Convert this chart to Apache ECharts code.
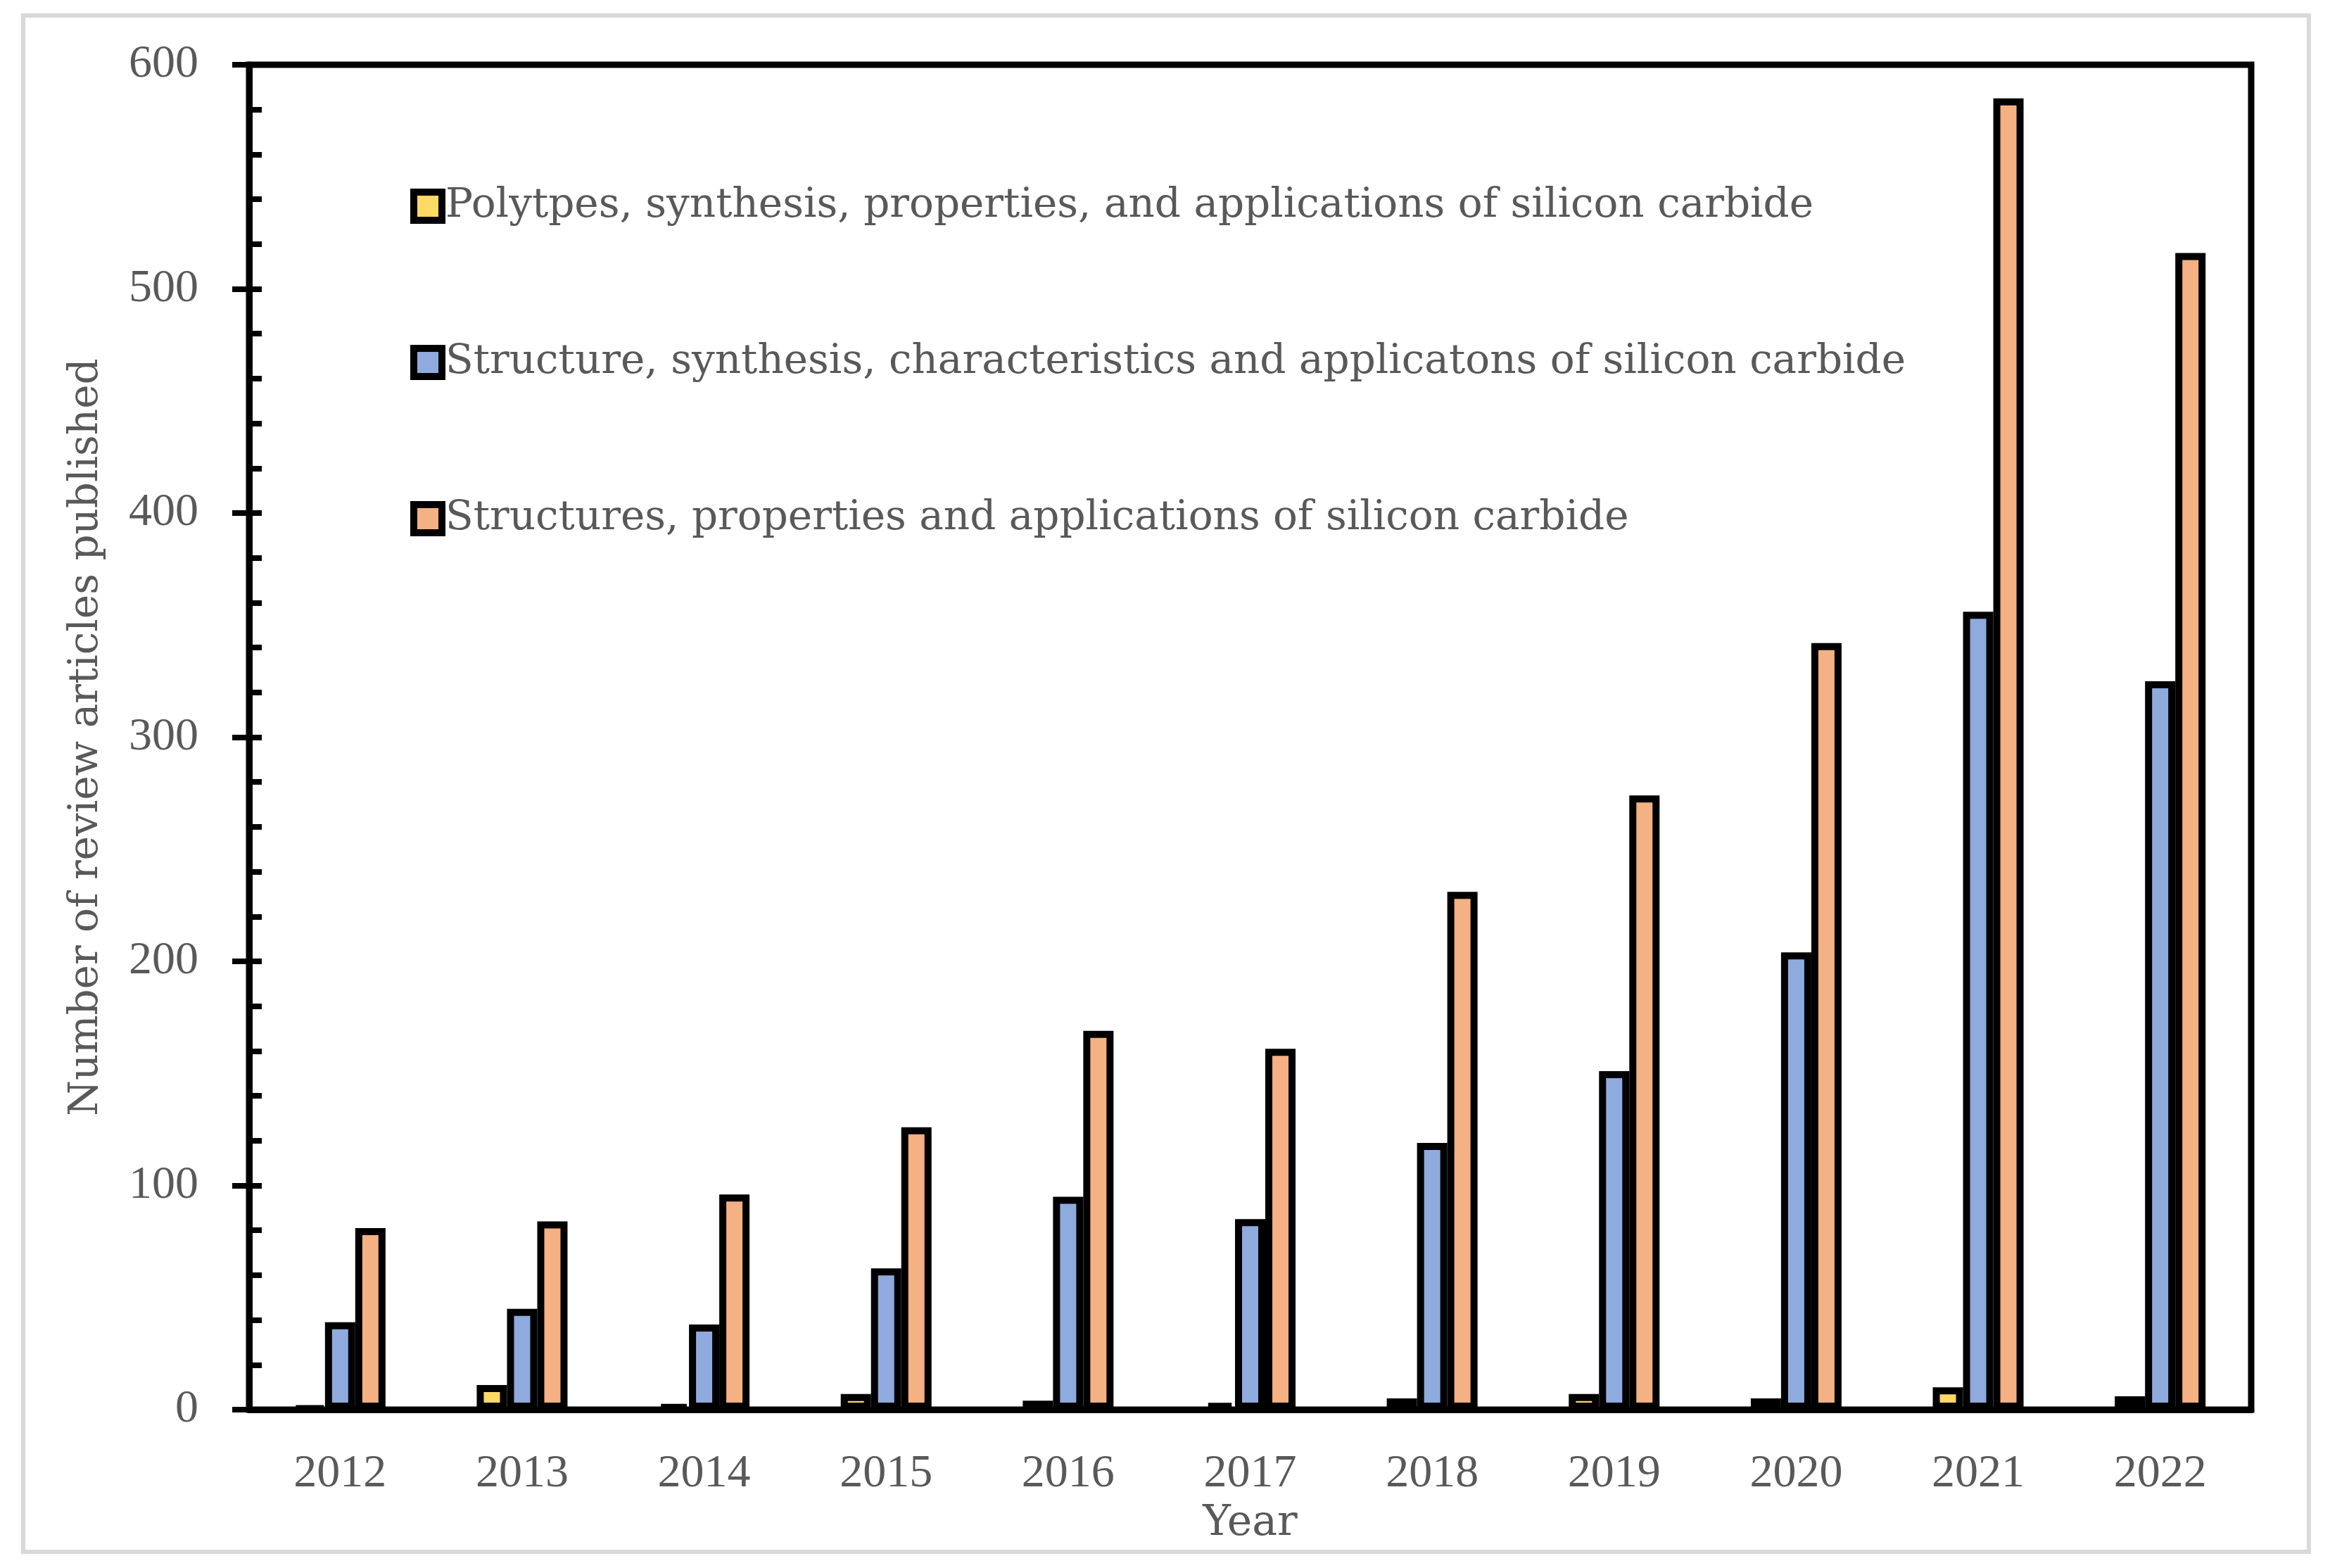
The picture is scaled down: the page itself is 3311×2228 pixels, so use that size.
<!DOCTYPE html>
<html>
<head>
<meta charset="utf-8">
<script src="https://cdn.jsdelivr.net/npm/echarts@6/dist/echarts.min.js"></script>
<style>
html,body{margin:0;padding:0;background:#fff;}
#chart{width:3311px;height:2228px;}
</style>
</head>
<body>
<div id="chart"></div>
<script>
const years = ['2012','2013','2014','2015','2016','2017','2018','2019','2020','2021','2022'];
const seriesNames = [
  'Polytpes, synthesis, properties, and applications of silicon carbide',
  'Structure, synthesis, characteristics and applicatons of silicon carbide',
  'Structures, properties and applications of silicon carbide'
];
const polytpes = [1, 11, 2, 7, 4, 3, 5, 7, 5, 10, 6];
const structure = [39, 45, 38, 63, 95, 85, 119, 151, 204, 356, 325];
const structures = [81, 84, 96, 126, 169, 161, 231, 274, 342, 585, 516];
const colors = ['#FFD966', '#8FAADC', '#F4B183'];
const yTitle = 'Number of review articles published';
const xTitle = 'Year';

const FONT = 'Liberation Serif';
const FONT2 = 'DejaVu Serif';
const TXT = '#595959';

const chart = echarts.init(document.getElementById('chart'));
const mk = (name, data, color) => ({
  name: name, type: 'bar', data: data, yAxisIndex: 0,
  barWidth: 43, barGap: '0%',
  itemStyle: { color: color, borderColor: '#000', borderWidth: 10 }
});
chart.setOption({
  backgroundColor: '#fff',
  animation: false,
  graphic: [{
    type: 'rect', silent: true,
    shape: { x: 33, y: 22, width: 3248, height: 2183 },
    style: { fill: 'none', stroke: '#d9d9d9', lineWidth: 6 }
  }],
  legend: {
    orient: 'vertical', left: 578, top: 255, itemGap: 156,
    itemWidth: 40, itemHeight: 40, itemTextGap: 22, icon: 'rect',
    itemStyle: { borderColor: '#000', borderWidth: 10 },
    textStyle: { fontFamily: FONT2, fontSize: 58, lineHeight: 66, color: TXT },
    data: seriesNames
  },
  grid: { left: 354, right: 112, top: 92, bottom: 225, show: true, borderColor: '#000', borderWidth: 9, containLabel: false },
  xAxis: {
    type: 'category', data: years,
    name: xTitle, nameLocation: 'middle', nameGap: 112,
    nameTextStyle: { fontFamily: FONT2, fontSize: 60, lineHeight: 66, color: TXT, verticalAlign: 'top' },
    axisLine: { lineStyle: { color: '#000', width: 9 } },
    axisTick: { show: false },
    axisLabel: { fontFamily: FONT, fontSize: 66, lineHeight: 66, color: TXT, margin: 59 },
    splitLine: { show: false }
  },
  yAxis: [{
    type: 'value', min: 0, max: 600, interval: 100, position: 'left',
    name: yTitle, nameLocation: 'middle', nameGap: 198,
    nameTextStyle: { fontFamily: FONT2, fontSize: 58, lineHeight: 66, color: TXT },
    axisLine: { show: true, lineStyle: { color: '#000', width: 9 } },
    axisTick: { show: true, inside: false, length: 24, lineStyle: { color: '#000', width: 8 } },
    axisLabel: { fontFamily: FONT, fontSize: 66, color: TXT, margin: 72 },
    splitLine: { show: false }
  }, {
    type: 'value', min: 0, max: 600, interval: 20, position: 'left', offset: 0,
    axisLine: { show: false },
    axisTick: { show: true, inside: true, length: 18, lineStyle: { color: '#000', width: 8 } },
    axisLabel: { show: false },
    splitLine: { show: false }
  }],
  series: [
    mk(seriesNames[0], polytpes, colors[0]),
    mk(seriesNames[1], structure, colors[1]),
    mk(seriesNames[2], structures, colors[2])
  ]
});
</script>
</body>
</html>
